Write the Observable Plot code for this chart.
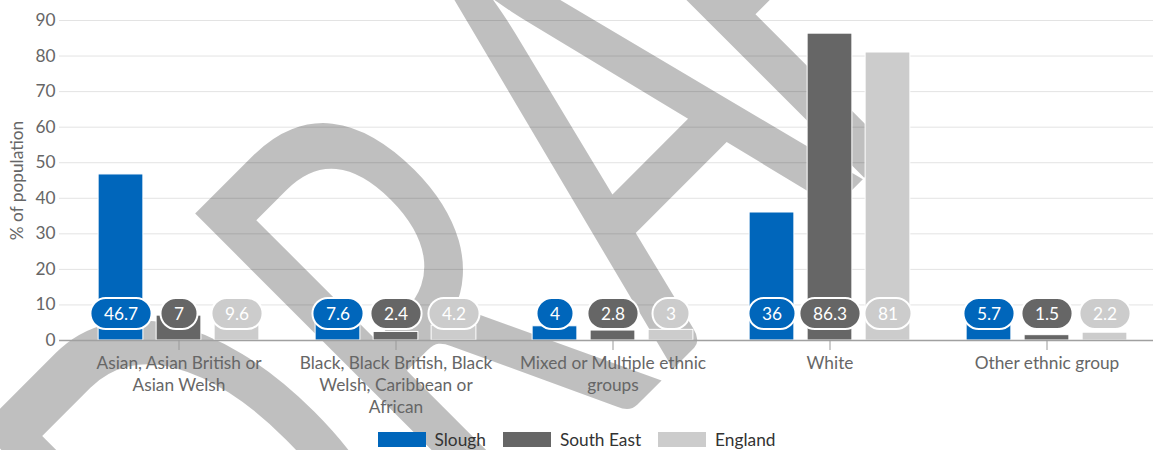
<!DOCTYPE html>
<html><head><meta charset="utf-8">
<script src="https://cdn.jsdelivr.net/npm/d3@7"></script>
<script src="https://cdn.jsdelivr.net/npm/@observablehq/plot@0.6"></script>
<style>
body{margin:0;background:#fff;font-family:Lato, sans-serif;width:1153px;overflow:hidden;}
#chart svg{overflow:visible;display:block;}
#legend{display:flex;justify-content:center;align-items:center;height:22px;font-size:17.3px;color:#333;position:relative;}
.item{display:flex;align-items:center;margin:0 8.5px;}
.sw{width:48px;height:15px;margin-right:9px;}
</style></head><body>
<div id="chart"></div><div id="legend"></div>
<script>
const categories = ["Asian, Asian British or Asian Welsh", "Black, Black British, Black Welsh, Caribbean or African", "Mixed or Multiple ethnic groups", "White", "Other ethnic group"];
const tickLabels = ["Asian, Asian British or\nAsian Welsh", "Black, Black British, Black\nWelsh, Caribbean or\nAfrican", "Mixed or Multiple ethnic\ngroups", "White", "Other ethnic group"];
const seriesNames = ["Slough", "South East", "England"];
const seriesColors = ["#0066bb", "#666666", "#cccccc"];
const slough = [46.7, 7.6, 4, 36, 5.7];
const southEast = [7, 2.4, 2.8, 86.3, 1.5];
const england = [9.6, 4.2, 3, 81, 2.2];
const yTicks = [0, 10, 20, 30, 40, 50, 60, 70, 80, 90];
const yLabel = "% of population";
const watermark = "DRAFT";

const seriesValues = [slough, southEast, england];
const rows = seriesNames.flatMap((s, j) => categories.map((c, i) => ({category: c, series: s, value: seriesValues[j][i]})));

const xRange = [69.4, 1155.6];
const band = (xRange[1] - xRange[0]) / categories.length;
const barStep = 58, barWidth = 46;
const inset = (band - barWidth) / 2 + 0.5;
const fs = 17.3;

const marks = [
  Plot.gridY(yTicks, {stroke: "#e3e3e3", strokeOpacity: 1, strokeWidth: 1}),
  Plot.axisY(yTicks, {tickSize: 0, tickPadding: 4, fontSize: fs, fill: "#666", label: null}),
  Plot.text([yLabel], {frameAnchor: "left", text: d => d, rotate: -90, textAnchor: "middle", dx: -42, fontSize: fs, fill: "#666"}),
  Plot.text([watermark], {frameAnchor: "top-left", text: d => d, rotate: -45, textAnchor: "start", lineAnchor: "middle",
    dx: 69.9, dy: 609.3, fontSize: 625, fill: "black", fillOpacity: 0.25, fontFamily: "Lato", ariaDescription: "watermark"}),
  ...seriesNames.map((s, j) => Plot.barY(rows.filter(d => d.series === s), {
    x: "category", y: "value", fill: seriesColors[j], stroke: "white", strokeWidth: 1,
    insetLeft: inset, insetRight: inset, dx: (j - 1) * barStep
  })),
  Plot.ruleY([0], {stroke: "#a0a0a0", strokeWidth: 1.5}),
  Plot.axisX({tickSize: 10, tickPadding: 3, stroke: "#999", fill: "#666", fontSize: fs, lineHeight: 1.27,
    tickFormat: d => tickLabels[categories.indexOf(d)], label: null}),
  ...seriesNames.map((s, j) => Plot.text(rows.filter(d => d.series === s), {
    x: "category", frameAnchor: "bottom", text: d => String(d.value), dx: (j - 1) * barStep, dy: -20.5,
    fill: "white", fontSize: fs, ariaDescription: "pill-" + j
  }))
];

const plot = Plot.plot({
  width: 1153, height: 428,
  marginLeft: 59, marginRight: 0, marginTop: 20, marginBottom: 88,
  style: {fontFamily: "Lato", fontSize: "16px", background: "transparent"},
  x: {domain: categories, range: xRange, padding: 0},
  y: {domain: [0, 90]},
  marks
});
document.getElementById("chart").appendChild(plot);

// condensed watermark lettering
const wm = plot.querySelector('g[aria-description="watermark"] text');
if (wm) {
  wm.setAttribute("transform", (wm.getAttribute("transform") || "") + " scale(0.64,1)");
  wm.setAttribute("dx", "0 0 20 -56");
}

const ns = "http://www.w3.org/2000/svg";
seriesNames.forEach((s, j) => {
  const g = plot.querySelector(`g[aria-description="pill-${j}"]`);
  if (!g) return;
  g.querySelectorAll("text").forEach(t => {
    const bb = t.getBBox();
    const h = 31;
    const r = document.createElementNS(ns, "rect");
    r.setAttribute("x", bb.x - 13.5);
    r.setAttribute("width", bb.width + 27);
    r.setAttribute("y", bb.y + bb.height / 2 - h / 2);
    r.setAttribute("height", h);
    r.setAttribute("rx", h / 2);
    r.setAttribute("fill", seriesColors[j]);
    r.setAttribute("stroke", "white");
    r.setAttribute("stroke-width", 2);
    if (t.hasAttribute("transform")) r.setAttribute("transform", t.getAttribute("transform"));
    g.insertBefore(r, t);
  });
});

const legend = d3.select("#legend");
seriesNames.forEach((s, j) => {
  const it = legend.append("div").attr("class", "item");
  it.append("div").attr("class", "sw").style("background", seriesColors[j]);
  it.append("span").text(s);
});
</script>
</body></html>
